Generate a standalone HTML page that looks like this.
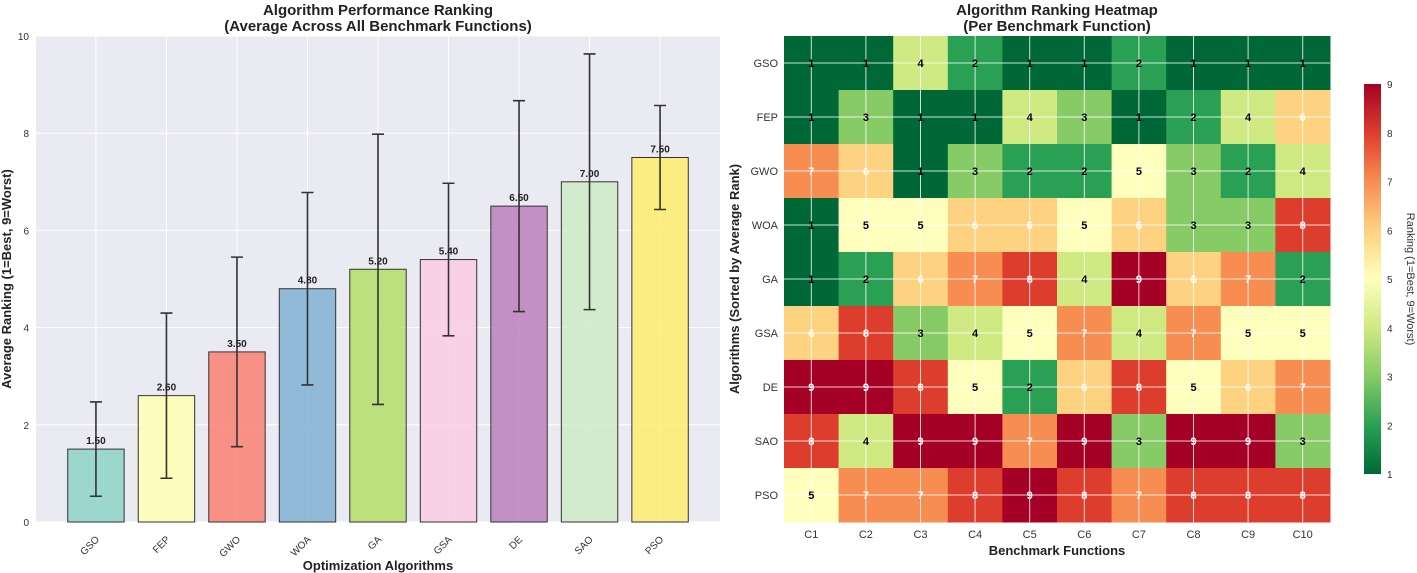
<!DOCTYPE html>
<html><head><meta charset="utf-8"><style>
html,body{margin:0;padding:0;background:#fff;}
svg{display:block;font-family:"Liberation Sans",sans-serif;}
</style></head><body>
<svg id="s" width="1417" height="573" xmlns="http://www.w3.org/2000/svg">
<text x="378" y="15" text-anchor="middle" font-size="15" font-weight="bold" fill="#222">Algorithm Performance Ranking</text>
<text x="378" y="31" text-anchor="middle" font-size="15" font-weight="bold" fill="#222">(Average Across All Benchmark Functions)</text>
<text x="1057" y="15" text-anchor="middle" font-size="15" font-weight="bold" fill="#222">Algorithm Ranking Heatmap</text>
<text x="1057" y="31" text-anchor="middle" font-size="15" font-weight="bold" fill="#222">(Per Benchmark Function)</text>
<g id="bar"></g><g id="heat"></g>
</svg>
<script>
const algos=["GSO","FEP","GWO","WOA","GA","GSA","DE","SAO","PSO"];
const means=[1.5,2.6,3.5,4.8,5.2,5.4,6.5,7.0,7.5];
const errs=[0.97,1.7,1.95,1.98,2.78,1.57,2.17,2.63,1.07];
const yTicks=[0,2,4,6,8,10];
const funcs=["C1","C2","C3","C4","C5","C6","C7","C8","C9","C10"];
const ranks=[
[1,1,4,2,1,1,2,1,1,1],
[1,3,1,1,4,3,1,2,4,6],
[7,6,1,3,2,2,5,3,2,4],
[1,5,5,6,6,5,6,3,3,8],
[1,2,6,7,8,4,9,6,7,2],
[6,8,3,4,5,7,4,7,5,5],
[9,9,8,5,2,6,8,5,6,7],
[8,4,9,9,7,9,3,9,9,3],
[5,7,7,8,9,8,7,8,8,8]];
const cbTicks=[1,2,3,4,5,6,7,8,9];
const NS="http://www.w3.org/2000/svg";
function mk(t,a,p,txt){const e=document.createElementNS(NS,t);for(const k in a)e.setAttribute(k,a[k]);if(txt!==undefined)e.textContent=txt;p.appendChild(e);return e;}
// bar chart
const bg=document.getElementById('bar');
const L=36,R=720,T=36,B=522;
const y=v=>B-(v/10)*(B-T);
const step=(R-L)/(algos.length-1+1.7);
const x=i=>L+step*(0.85+i);
let r=mk('rect',{x:L,y:T,width:R-L,height:B-T,fill:'#eaeaf2'},bg);

yTicks.forEach(t=>{let g=mk('line',{x1:L,x2:R,y1:y(t),y2:y(t),stroke:'#fff','stroke-width':1},bg);

let l=mk('text',{x:L-7,y:y(t)+4,'text-anchor':'end','font-size':10,fill:'#333'},bg,String(t));
});
algos.forEach((a,i)=>{let g=mk('line',{x1:x(i),x2:x(i),y1:T,y2:B,stroke:'#fff','stroke-width':1},bg);
});
const cols=["#8dd3c7","#ffffb3","#fb8072","#80b1d3","#b3de69","#fccde5","#bc80bd","#ccebc5","#ffed6f"];
algos.forEach((a,i)=>{const w=step*0.8;
let b=mk('rect',{x:x(i)-w/2,y:y(means[i]),width:w,height:B-y(means[i]),fill:cols[i],'fill-opacity':0.85,stroke:'#333','stroke-width':1},bg);

const t1=y(means[i]+errs[i]),t2=y(means[i]-errs[i]);
let e=mk('path',{d:`M${x(i)},${t1}V${t2}M${x(i)-6},${t1}H${x(i)+6}M${x(i)-6},${t2}H${x(i)+6}`,stroke:'#333','stroke-width':1.6,fill:'none'},bg);

let v=mk('text',{x:x(i),y:y(means[i])-5,'text-anchor':'middle','font-size':10,'font-weight':'bold',fill:'#222'},bg,means[i].toFixed(2));

let xl=mk('text',{x:x(i)+4,y:B+18,'text-anchor':'end','font-size':10,fill:'#333',transform:`rotate(-45 ${x(i)+4} ${B+18})`},bg,a);
});
let xt=mk('text',{x:(L+R)/2,y:570,'text-anchor':'middle','font-size':13,'font-weight':'bold',fill:'#222'},bg,'Optimization Algorithms');

let yt=mk('text',{x:0,y:0,'text-anchor':'middle','font-size':13,'font-weight':'bold',fill:'#222',transform:`translate(11 ${(T+B)/2}) rotate(-90)`},bg,'Average Ranking (1=Best, 9=Worst)');

// heatmap
const hg=document.getElementById('heat');
const HL=784,HR=1330,HT=36,HB=522;
const cw=(HR-HL)/funcs.length,ch=(HB-HT)/algos.length;
const cmap={1:"#006837",2:"#2aa055",3:"#86cb66",4:"#cfe983",5:"#fefebd",6:"#fdd280",7:"#f88d52",8:"#dd3d2d",9:"#a50026"};
ranks.forEach((row,i)=>row.forEach((v,j)=>{
let c=mk('rect',{x:HL+j*cw,y:HT+i*ch,width:cw+0.5,height:ch+0.5,fill:cmap[v]},hg);
}));
funcs.forEach((f,j)=>{const cx=HL+(j+0.5)*cw;
let g=mk('line',{x1:cx,x2:cx,y1:HT,y2:HB,stroke:'#fff','stroke-opacity':0.8,'stroke-width':1},hg);

let l=mk('text',{x:cx,y:HB+16,'text-anchor':'middle','font-size':11,fill:'#333'},hg,f);
});
algos.forEach((a,i)=>{const cy=HT+(i+0.5)*ch;
let g=mk('line',{x1:HL,x2:HR,y1:cy,y2:cy,stroke:'#fff','stroke-opacity':0.8,'stroke-width':1},hg);

let l=mk('text',{x:HL-6,y:cy+4,'text-anchor':'end','font-size':11,fill:'#333'},hg,a);
});
ranks.forEach((row,i)=>row.forEach((v,j)=>{
let t=mk('text',{x:HL+(j+0.5)*cw,y:HT+(i+0.5)*ch+4,'text-anchor':'middle','font-size':11,'font-weight':'bold',fill:v>=6?'#fff':'#000'},hg,String(v));
}));
let hx=mk('text',{x:(HL+HR)/2,y:555,'text-anchor':'middle','font-size':13,'font-weight':'bold',fill:'#222'},hg,'Benchmark Functions');

let hy=mk('text',{x:0,y:0,'text-anchor':'middle','font-size':13,'font-weight':'bold',fill:'#222',transform:`translate(739 ${(HT+HB)/2}) rotate(-90)`},hg,'Algorithms (Sorted by Average Rank)');

// colorbar
const CL=1364,CW=17,CT=84,CB=474;
const defs=mk('defs',{},hg);const gr=mk('linearGradient',{id:'cg',x1:0,y1:1,x2:0,y2:0},defs);
[1,2,3,4,5,6,7,8,9].forEach((v,k)=>mk('stop',{offset:k/8,'stop-color':cmap[v]},gr));
let cb=mk('rect',{x:CL,y:CT,width:CW,height:CB-CT,fill:'url(#cg)'},hg);

cbTicks.forEach(t=>{const yy=CB-(t-1)/8*(CB-CT);
let l=mk('text',{x:CL+CW+6,y:yy+4,'font-size':10,fill:'#333'},hg,String(t));
});
let cl=mk('text',{x:0,y:0,'text-anchor':'middle','font-size':11,fill:'#333',transform:`translate(1407 ${(CT+CB)/2}) rotate(90)`},hg,'Ranking (1=Best, 9=Worst)');

</script>
</body></html>
